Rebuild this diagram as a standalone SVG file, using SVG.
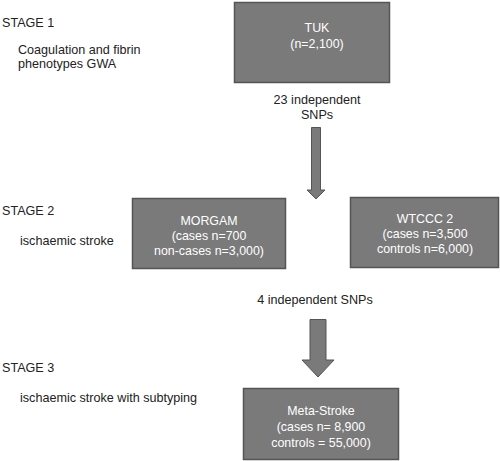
<svg xmlns="http://www.w3.org/2000/svg" width="500" height="461" viewBox="0 0 500 461">
<style>
.box{fill:#7a7a7a;stroke:#555;stroke-width:1.5}
.arr{fill:#7a7a7a;stroke:#555;stroke-width:1}
.bt{font-family:"Liberation Sans",Arial,sans-serif;font-size:12.4px;fill:#fff;text-anchor:middle}
.lt{font-family:"Liberation Sans",Arial,sans-serif;font-size:12.6px;fill:#222}
.ct{font-family:"Liberation Sans",Arial,sans-serif;font-size:12.6px;fill:#222;text-anchor:middle}
</style>
<rect width="500" height="461" fill="#fff"/>
<g id="labels">
<text class="lt" x="2" y="27">STAGE 1</text>
<text class="lt" x="18" y="54">Coagulation and fibrin</text>
<text class="lt" x="18" y="68">phenotypes GWA</text>
<text class="lt" x="2" y="215">STAGE 2</text>
<text class="lt" x="20" y="245">ischaemic stroke</text>
<text class="lt" x="2" y="372">STAGE 3</text>
<text class="lt" x="20" y="402">ischaemic stroke with subtyping</text>
</g>
<g id="tuk">
<rect class="box" x="234.5" y="2.5" width="155" height="80"/>
<text class="bt" x="317" y="32">TUK</text>
<text class="bt" x="317" y="48">(n=2,100)</text>
</g>
<g id="morgam">
<rect class="box" x="132.5" y="198.5" width="153" height="70"/>
<text class="bt" x="209" y="225">MORGAM</text>
<text class="bt" x="209" y="240">(cases n=700</text>
<text class="bt" x="209" y="255">non-cases n=3,000)</text>
</g>
<g id="wtccc2">
<rect class="box" x="350.5" y="197.5" width="148" height="70"/>
<text class="bt" x="425" y="223">WTCCC 2</text>
<text class="bt" x="425" y="238">(cases n=3,500</text>
<text class="bt" x="425" y="253">controls n=6,000)</text>
</g>
<g id="metastroke">
<rect class="box" x="243.5" y="388.5" width="155" height="71"/>
<text class="bt" x="321" y="415">Meta-Stroke</text>
<text class="bt" x="321" y="431">(cases n= 8,900</text>
<text class="bt" x="321" y="447">controls = 55,000)</text>
</g>
<g id="connectors">
<text class="ct" x="317" y="104">23 independent</text>
<text class="ct" x="317" y="119">SNPs</text>
<polygon class="arr" points="311.5,127.5 320.5,127.5 320.5,190 325,190 316,199 307,190 311.5,190"/>
<text class="ct" x="315" y="304">4 independent SNPs</text>
<polygon class="arr" points="310,319.5 326,319.5 326,360 334,360 318,377 302,360 310,360"/>
</g>
</svg>
